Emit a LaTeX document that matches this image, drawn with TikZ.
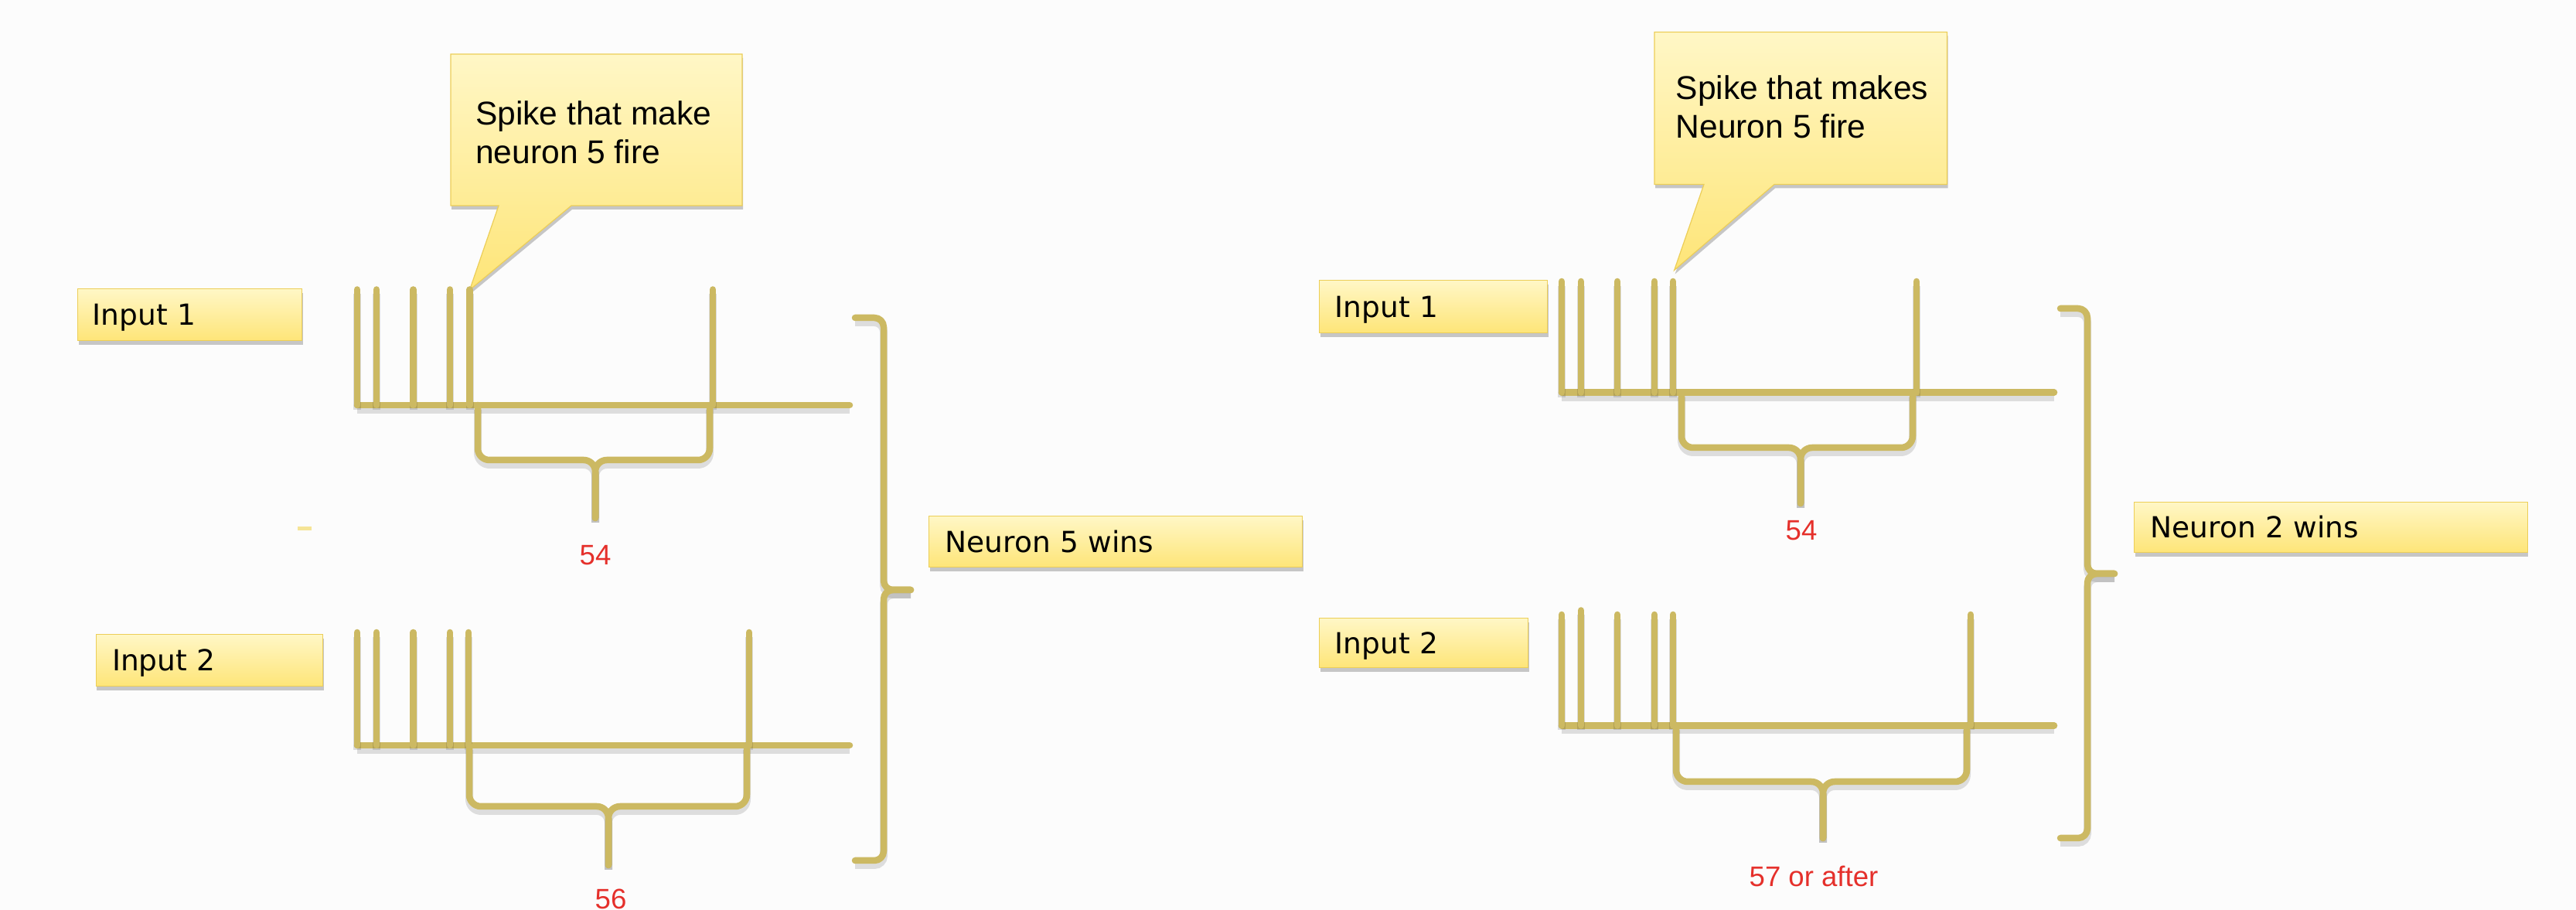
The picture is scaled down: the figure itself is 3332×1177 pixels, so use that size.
\documentclass[tikz,border=0pt]{standalone}
\usepackage{fontspec}
\setmainfont{Liberation Sans}
\newfontfamily\dejavu{DejaVu Sans}
\usetikzlibrary{shadows}
\definecolor{gold}{RGB}{204,185,98}
\definecolor{boxtop}{RGB}{255,247,198}
\definecolor{boxbot}{RGB}{254,229,120}
\definecolor{boxline}{RGB}{236,206,88}
\definecolor{redlab}{RGB}{229,48,43}
\definecolor{bgcol}{RGB}{252,252,252}
\definecolor{dashcol}{RGB}{245,228,150}
\tikzset{
  gline/.style={draw=gold, line width=0.085cm, line cap=round, line join=round,
    preaction={draw=black, opacity=0.12, line width=0.1cm, transform canvas={yshift=-0.06cm}}},
  inbox/.style={rectangle, draw=boxline, line width=0.012cm, top color=boxtop, bottom color=boxbot,
    drop shadow={shadow xshift=0.01cm, shadow yshift=-0.05cm, opacity=0.3, fill=black!70},
    font=\dejavu\fontsize{10.67pt}{12.8pt}\selectfont, text height=0.27cm, text depth=0pt,
    inner ysep=0pt, anchor=north west, align=left},
  callout/.style={draw=boxline, line width=0.012cm, top color=boxtop, bottom color=boxbot,
    drop shadow={shadow xshift=0.01cm, shadow yshift=-0.05cm, opacity=0.3, fill=black!70}},
  calltext/.style={anchor=north west, inner sep=0pt, align=left, font=\fontsize{12.1pt}{14.3pt}\selectfont},
  redlabel/.style={text=redlab, anchor=base, inner sep=0pt, font=\fontsize{10.4pt}{12.5pt}\selectfont}
}
\begin{document}
\begin{tikzpicture}[x=0.01cm, y=-0.01cm]
\fill[bgcol] (0,0) rectangle (3332,1177);
\useasboundingbox (0,0) rectangle (3332,1177);

% ---------------- left panel ----------------
\draw[callout] (583,70) -- (960,70) -- (960,266) -- (739,266) -- (607.5,375) -- (645,266) -- (583,266) -- cycle;
\node[calltext] (tL) at (614.5,129.5) {Spike that make\\neuron 5 fire};

\node[inbox, minimum height=0.67cm, inner xsep=0.19cm, text width=2.52cm] (in1L) at (100,373) {Input 1};
\node[inbox, minimum height=0.67cm, inner xsep=0.21cm, text width=2.515cm] (in2L) at (123.5,820) {Input 2};
\node[inbox, minimum height=0.66cm, inner xsep=0.21cm, text width=4.41cm] (winL) at (1201,667) {Neuron 5 wins};

\fill[dashcol] (385,681) rectangle (403,686);

% input 1 spikes
\draw[gline] (462,524) -- (1099,524);
\foreach \x in {462,487,534.6,582,607.5,922} \draw[gline] (\x,374.5) -- (\x,524);
\draw[gline, rounded corners=0.15cm] (618,524) -- (618,595) -- (770,595) -- (770,670);
\draw[gline, rounded corners=0.15cm] (918,524) -- (918,595) -- (770,595) -- (770,670);
\node[redlabel] (n54L) at (770,731) {54};

% input 2 spikes
\draw[gline] (462,964) -- (1099,964);
\foreach \x in {462,487,534.6,582,606,969} \draw[gline] (\x,818) -- (\x,964);
\draw[gline, rounded corners=0.15cm] (607,964) -- (607,1043) -- (787,1043) -- (787,1119);
\draw[gline, rounded corners=0.15cm] (966,964) -- (966,1043) -- (787,1043) -- (787,1119);
\node[redlabel] (n56) at (790,1176) {56};

% big bracket
\draw[gline, rounded corners=0.12cm] (1106,411) -- (1143,411) -- (1143,763) -- (1178,763);
\draw[gline, rounded corners=0.12cm] (1106,1113) -- (1143,1113) -- (1143,763) -- (1178,763);

% ---------------- right panel ----------------
\draw[callout] (2140,41.5) -- (2518.5,41.5) -- (2518.5,238.5) -- (2295,238.5) -- (2165.6,349.5) -- (2204,238.5) -- (2140,238.5) -- cycle;
\node[calltext] (tR) at (2167,97) {Spike that makes\\Neuron 5 fire};

\node[inbox, minimum height=0.68cm, inner xsep=0.20cm, text width=2.55cm] (in1R) at (1706,362) {Input 1};
\node[inbox, minimum height=0.64cm, inner xsep=0.20cm, text width=2.30cm] (in2R) at (1706,799) {Input 2};
\node[inbox, minimum height=0.65cm, inner xsep=0.21cm, text width=4.665cm] (winR) at (2760,649) {Neuron 2 wins};

% input 1 spikes
\draw[gline] (2020,507.6) -- (2657,507.6);
\foreach \x in {2020,2045,2092,2140,2164,2479} \draw[gline] (\x,364) -- (\x,507.6);
\draw[gline, rounded corners=0.15cm] (2175,507.6) -- (2175,579) -- (2329,579) -- (2329,651);
\draw[gline, rounded corners=0.15cm] (2474,507.6) -- (2474,579) -- (2329,579) -- (2329,651);
\node[redlabel] (n54R) at (2330,699) {54};

% input 2 spikes
\draw[gline] (2020,938.5) -- (2657,938.5);
\foreach \x/\t in {2020/795,2045/789.5,2092/795,2140/795,2164/795,2549/795} \draw[gline] (\x,\t) -- (\x,938.5);
\draw[gline, rounded corners=0.15cm] (2168,938.5) -- (2168,1011) -- (2358,1011) -- (2358,1084);
\draw[gline, rounded corners=0.15cm] (2544,938.5) -- (2544,1011) -- (2358,1011) -- (2358,1084);
\node[redlabel] (n57) at (2346,1146.5) {57 or after};

% big bracket
\draw[gline, rounded corners=0.12cm] (2665,399) -- (2700,399) -- (2700,742) -- (2735,742);
\draw[gline, rounded corners=0.12cm] (2665,1084) -- (2700,1084) -- (2700,742) -- (2735,742);
\end{tikzpicture}
\end{document}
